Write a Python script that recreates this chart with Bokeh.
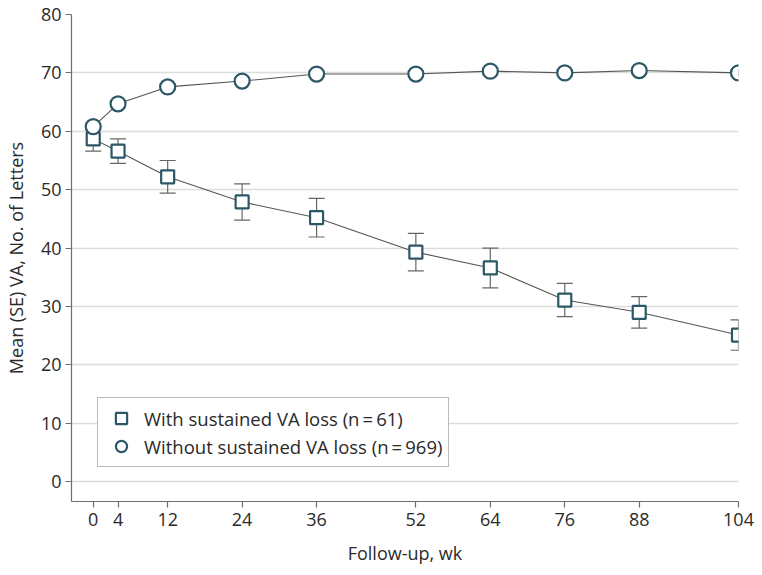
from bokeh.plotting import figure
from bokeh.models import (ColumnDataSource, Whisker, TeeHead, FixedTicker, Range1d,
                          Legend, LegendItem)
from bokeh.embed import file_html
from bokeh.resources import INLINE

# ---- data ----
weeks = [0, 4, 12, 24, 36, 52, 64, 76, 88, 104]
with_loss_mean = [58.7, 56.6, 52.2, 47.9, 45.2, 39.3, 36.6, 31.1, 29.0, 25.1]
with_loss_se = [2.1, 2.1, 2.8, 3.1, 3.3, 3.2, 3.4, 2.85, 2.7, 2.6]
without_loss_mean = [60.8, 64.7, 67.6, 68.6, 69.8, 69.8, 70.3, 70.0, 70.4, 70.0]
without_loss_se = [0.5, 0.5, 0.5, 0.5, 0.5, 0.5, 0.5, 0.5, 0.5, 0.5]
x_ticks = [0, 4, 12, 24, 36, 52, 64, 76, 88, 104]
y_ticks = [0, 10, 20, 30, 40, 50, 60, 70, 80]
label_with = "With sustained VA loss (n\u2009=\u200961)"
label_without = "Without sustained VA loss (n\u2009=\u2009969)"

FONT = "Open Sans"
MARK = "#2c5767"
LINE = "#555555"
ERR = "#666666"
TXT = "#2a2a2a"

src_w = ColumnDataSource(dict(
    x=weeks, y=with_loss_mean,
    lo=[m - s for m, s in zip(with_loss_mean, with_loss_se)],
    hi=[m + s for m, s in zip(with_loss_mean, with_loss_se)]))
src_o = ColumnDataSource(dict(
    x=weeks, y=without_loss_mean,
    lo=[m - s for m, s in zip(without_loss_mean, without_loss_se)],
    hi=[m + s for m, s in zip(without_loss_mean, without_loss_se)]))

p = figure(width=754, height=567, output_backend="svg", toolbar_location=None,
           x_range=Range1d(-3.5, 104), y_range=Range1d(-3.4, 80),
           min_border_left=71, min_border_right=16, min_border_top=14,
           min_border_bottom=64)
p.outline_line_color = None
p.xgrid.grid_line_color = None
p.ygrid.grid_line_color = "#dcdcdc"
p.ygrid.grid_line_width = 1.5

for ax in (p.xaxis[0], p.yaxis[0]):
    ax.axis_line_color = "#6e6e6e"
    ax.axis_line_width = 1.2
    ax.major_tick_line_color = "#6e6e6e"
    ax.major_tick_line_width = 1.2
    ax.major_tick_out = 6
    ax.major_tick_in = 0
    ax.minor_tick_line_color = None
    ax.major_label_text_font = FONT
    ax.major_label_text_font_size = "18px"
    ax.major_label_text_color = TXT
    ax.axis_label_text_font = FONT
    ax.axis_label_text_font_size = "18px"
    ax.axis_label_text_font_style = "normal"
    ax.axis_label_text_color = TXT

p.xaxis.ticker = FixedTicker(ticks=x_ticks)
p.yaxis.ticker = FixedTicker(ticks=y_ticks)
p.xaxis.axis_label = "Follow-up, wk"
p.yaxis.axis_label = "Mean (SE) VA, No. of Letters"
p.xaxis.major_label_standoff = 5
p.xaxis.axis_label_standoff = 12
p.yaxis.major_label_standoff = 4
p.yaxis.axis_label_standoff = 10

# lines
p.line("x", "y", source=src_w, line_color=LINE, line_width=1.1)
p.line("x", "y", source=src_o, line_color=LINE, line_width=1.1)

# error bars
for src in (src_w, src_o):
    w = Whisker(source=src, base="x", lower="lo", upper="hi", dimension="height",
                line_color=ERR, line_width=1.2,
                upper_head=TeeHead(size=16, line_color=ERR, line_width=1.2),
                lower_head=TeeHead(size=16, line_color=ERR, line_width=1.2))
    p.add_layout(w)

r_sq = p.scatter("x", "y", source=src_w, marker="square", size=13,
                 fill_color="white", line_color=MARK, line_width=2.2)
r_ci = p.scatter("x", "y", source=src_o, marker="circle", size=15,
                 fill_color="white", line_color=MARK, line_width=2.2)

legend = Legend(items=[LegendItem(label=label_with, renderers=[r_sq]),
                       LegendItem(label=label_without, renderers=[r_ci])],
                location=(26, 34))
legend.label_text_font = FONT
legend.label_text_font_size = "18.5px"
legend.label_text_color = TXT
legend.border_line_color = "#777777"
legend.border_line_width = 1.2
legend.background_fill_color = "white"
legend.background_fill_alpha = 1
legend.glyph_width = 34
legend.glyph_height = 28
legend.label_height = 20
legend.label_standoff = 6
legend.padding = 6
legend.spacing = 0
legend.margin = 0
p.add_layout(legend)

open("out.html", "w").write(file_html(p, INLINE))
